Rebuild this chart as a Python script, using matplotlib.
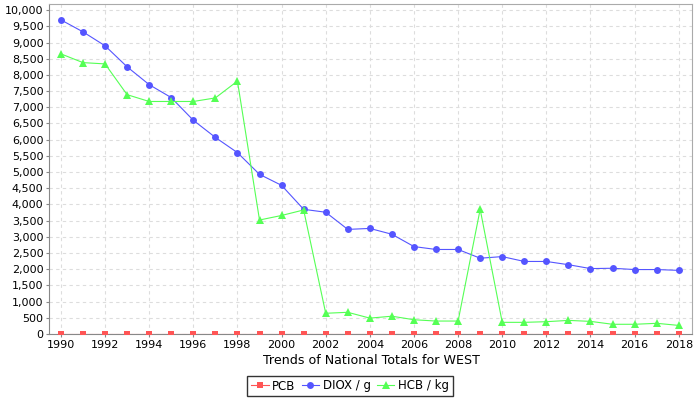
import matplotlib
matplotlib.use("Agg")
import matplotlib.pyplot as plt
from matplotlib.ticker import FuncFormatter, MultipleLocator

years = list(range(1990, 2019))
pcb = [5] * len(years)
diox = [9700, 9330, 8900, 8250, 7700, 7300, 6600, 6070, 5600, 4930,
        4590, 3850, 3760, 3230, 3260, 3080, 2700, 2610, 2610, 2340,
        2390, 2240, 2240, 2140, 2020, 2030, 1990, 1990, 1965]
hcb = [8650, 8380, 8340, 7390, 7180, 7180, 7180, 7290, 7810, 3520,
       3660, 3830, 640, 670, 490, 550, 440, 400, 400, 3850,
       360, 360, 380, 420, 390, 300, 300, 330, 265]

fig = plt.figure(figsize=(7, 4), dpi=100)
ax = fig.add_axes([49/700, 66/400, (692-49)/700, (334-4)/400])

ax.plot(years, pcb, color="#FF5555", marker="s", markersize=4.8, markeredgewidth=0, linewidth=0.8, label="PCB", zorder=3)
ax.plot(years, diox, color="#5555FF", marker="o", markersize=5, markeredgewidth=0, linewidth=0.8, label="DIOX / g", zorder=3)
ax.plot(years, hcb, color="#55FF55", marker="^", markersize=5.5, markeredgewidth=0, linewidth=0.8, label="HCB / kg", zorder=3)

ax.set_xlim(1989.46, 2018.6)
ax.set_ylim(0, 10190)
ax.xaxis.set_major_locator(MultipleLocator(2))
ax.yaxis.set_major_locator(MultipleLocator(500))
ax.yaxis.set_major_formatter(FuncFormatter(lambda v, p: f"{int(v):,}"))
ax.tick_params(labelsize=8, length=2, color="#888888", pad=2)
ax.grid(True, linestyle=(0, (3, 3)), color="#DDDDDD", linewidth=0.8)
ax.set_axisbelow(True)
for s in ax.spines.values():
    s.set_color("#AAAAAA")
ax.spines["left"].set_color("#888888")
ax.spines["bottom"].set_color("#888888")

fig.text(371/700, 1 - 360/400, "Trends of National Totals for WEST", ha="center", va="center", fontsize=9.1)
leg = fig.legend(loc="center", bbox_to_anchor=(350/700, 1 - 386/400), ncol=3, fontsize=8.5,
                 frameon=True, fancybox=False, edgecolor="black", handlelength=1.5,
                 handletextpad=0.3, columnspacing=0.5, borderpad=0.3, borderaxespad=0)
leg.get_frame().set_linewidth(1)

fig.savefig("out.png", dpi=100)
